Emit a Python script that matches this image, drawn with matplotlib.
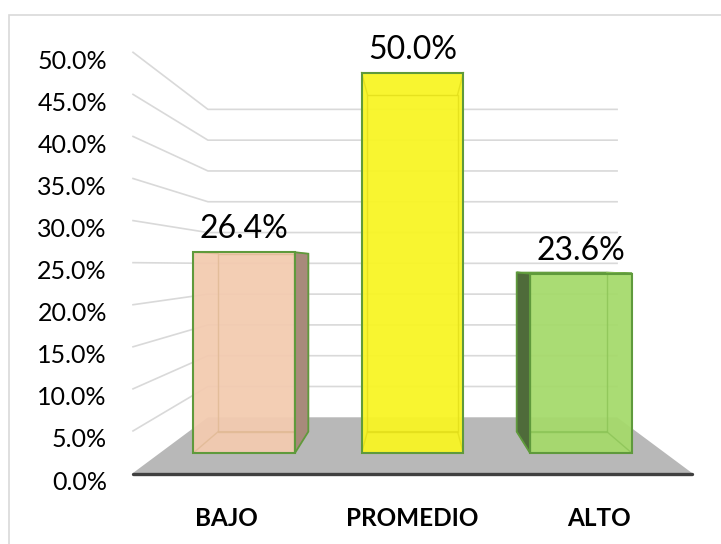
import matplotlib.pyplot as plt
from matplotlib.patches import Polygon, Rectangle
from matplotlib.transforms import offset_copy

categories = ["BAJO", "PROMEDIO", "ALTO"]
values = [26.4, 50.0, 23.6]
tick_values = [0, 5, 10, 15, 20, 25, 30, 35, 40, 45, 50]
tick_labels = [f"{v:.1f}%" for v in tick_values]

front_colors = ["#f3cbb0", "#f8f523", "#a5da6b"]
side_colors = ["#a88a7b", "#b5b31a", "#4f6b3a"]
inner_colors = ["#e0b994", "#e2de1a", "#8cc457"]
edge_color = "#5f9a3c"

plt.rcParams['font.family'] = ['Lato', 'DejaVu Sans']

# perspective: vanishing point (category units, percent) and camera distance
VX, VY = 1.5, 24.7
D = 2.73
BAR_W = 0.302        # half width of a bar in category units
Z_FRONT, Z_BACK = 0.287, 0.678


def project(x, y, z):
    s = D / (D + z)
    return VX + (x - VX) * s, VY + (y - VY) * s


def face(pts):
    return [project(*p) for p in pts]


fig = plt.figure(figsize=(7.21, 5.44), dpi=100)
ax = fig.add_axes([0, 0, 1, 1])
ax.set_xlim(-0.7138, 3.1556)
ax.set_ylim(-8.438, 56.216)
ax.axis('off')

# outer chart border
ax.add_patch(Rectangle((9 / 721, -0.5), 2, 0.9724 + 0.5, transform=ax.transAxes,
                       fill=False, edgecolor="#d9d9d9", lw=1.2, zorder=0))

# side and back wall gridlines
for v in tick_values[1:]:
    xf, yf = project(0, v, 0)
    xb, yb = project(0, v, 1)
    xr, yr = project(3, v, 1)
    ax.plot([xf, xb, xr], [yf, yb, yr], color="#d9d9d9", lw=1.2, zorder=1)

# floor
ax.add_patch(Polygon(face([(0, 0, 0), (3, 0, 0), (3, 0, 1), (0, 0, 1)]),
                     closed=True, facecolor="#b8b8b8", edgecolor="none", zorder=2))
ax.plot([0, 3], [-0.1, -0.1], color="#404040", lw=2.4, solid_capstyle="round", zorder=3)

# tick labels
tick_tr = offset_copy(ax.transData, fig=fig, x=0, y=-9, units='dots')
for v, lab in zip(tick_values, tick_labels):
    ax.text(-0.14, v, lab, transform=tick_tr, ha='right', va='center',
            fontsize=18, color="#000000")

# bars
for i, (cat, v) in enumerate(zip(categories, values)):
    cx = i + 0.5
    x0, x1 = cx - BAR_W, cx + BAR_W
    zf, zb = Z_FRONT, Z_BACK
    back = face([(x0, 0, zb), (x1, 0, zb), (x1, v, zb), (x0, v, zb)])
    bottom = face([(x0, 0, zf), (x1, 0, zf), (x1, 0, zb), (x0, 0, zb)])
    left = face([(x0, 0, zf), (x0, 0, zb), (x0, v, zb), (x0, v, zf)])
    right = face([(x1, 0, zf), (x1, 0, zb), (x1, v, zb), (x1, v, zf)])
    top = face([(x0, v, zf), (x1, v, zf), (x1, v, zb), (x0, v, zb)])
    front = face([(x0, 0, zf), (x1, 0, zf), (x1, v, zf), (x0, v, zf)])

    if v < VY:
        ax.add_patch(Polygon(top, closed=True, facecolor=front_colors[i],
                             edgecolor=edge_color, lw=1.3, zorder=5))

    # translucent front face
    ax.add_patch(Polygon(front, closed=True, facecolor=front_colors[i], alpha=0.94,
                         edgecolor="none", zorder=6))

    # hidden edges, seen through the front
    for poly in (back, bottom):
        ax.add_patch(Polygon(poly, closed=True, fill=False,
                             edgecolor=inner_colors[i], lw=1.0, alpha=0.8, zorder=6.5))
    for k in (2, 3):
        ax.plot([front[k][0], back[k][0]], [front[k][1], back[k][1]],
                color=inner_colors[i], lw=1.0, alpha=0.8, zorder=6.5)

    # visible side faces
    if x1 < VX:
        ax.add_patch(Polygon(right, closed=True, facecolor=side_colors[i],
                             edgecolor=edge_color, lw=1.3, zorder=6.8))
    if x0 > VX:
        ax.add_patch(Polygon(left, closed=True, facecolor=side_colors[i],
                             edgecolor=edge_color, lw=1.3, zorder=6.8))

    ax.add_patch(Polygon(front, closed=True, fill=False,
                         edgecolor=edge_color, lw=1.5, zorder=7))

    # value label above the bar
    lx, ly = project(cx, v, zf)
    ax.annotate(f"{v:.1f}%", (lx, ly), xytext=(0, 8), textcoords='offset pixels',
                ha='center', va='bottom', fontsize=23, color="#000000", zorder=8)

    # category label under the floor
    ax.annotate(cat, (cx, 0), xytext=(0, -45), textcoords='offset pixels',
                ha='center', va='center', fontsize=17.5, fontweight='bold',
                color="#000000")

fig.savefig("out.png", dpi=100)
